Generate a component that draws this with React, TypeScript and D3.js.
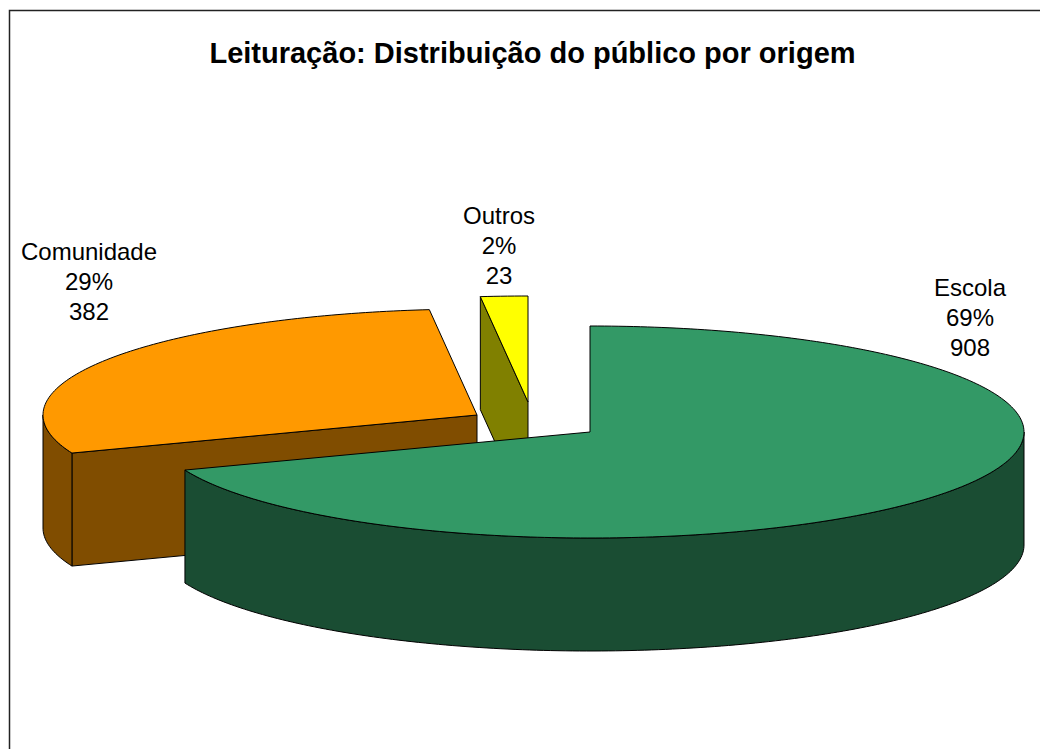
import React from 'react';
import * as d3 from 'd3';

const title = 'Leituração: Distribuição do público por origem';
const categories = ['Escola', 'Comunidade', 'Outros'];
const values = [908, 382, 23];
const topColors = ['#339966', '#FF9900', '#FFFF00'];
const sideColors = ['#1A4D33', '#804D00', '#808000'];

const width = 1040;
const height = 749;
const rx = 434;
const ry = 106;
const depth = 113;
// pie centre of each slice after it is pulled out
const centers: [number, number][] = [[590, 432], [477, 415], [528, 402]];
const labelPos: [number, number][] = [[970, 296], [89, 260], [499, 224]];
const labelStep = 30;
const font = '"Liberation Sans", Arial, sans-serif';

const line = d3.line<[number, number]>();
const pct = d3.format('.0%');
const total = d3.sum(values);

// point on the tilted rim, angle 0 at 12 o'clock going clockwise
const rim = (c: [number, number], a: number, dy = 0): [number, number] => [
  c[0] + rx * Math.sin(a),
  c[1] - ry * Math.cos(a) + dy,
];

const arcPoints = (c: [number, number], a0: number, a1: number, dy = 0) => {
  const n = Math.max(2, Math.ceil(Math.abs(a1 - a0) * 60));
  return d3.range(n + 1).map((i) => rim(c, a0 + ((a1 - a0) * i) / n, dy));
};

const Slice = ({ arc, i }: { arc: d3.PieArcDatum<number>; i: number }) => {
  const c = centers[i];
  const { startAngle: a0, endAngle: a1 } = arc;
  const top = line([c, ...arcPoints(c, a0, a1)]) + 'Z';

  // outer wall is only seen on the front half of the ellipse
  const w0 = Math.max(a0, Math.PI / 2);
  const w1 = Math.min(a1, (3 * Math.PI) / 2);
  const wall = w1 > w0
    ? line([...arcPoints(c, w0, w1), ...arcPoints(c, w1, w0, depth)]) + 'Z'
    : null;

  // cut face: the one at the slice start shows when it looks to the viewer
  const s: [number, number] = rim(c, a0);
  const cut = a0 > Math.PI
    ? line([c, s, [s[0], s[1] + depth], [c[0], c[1] + depth]]) + 'Z'
    : null;

  return (
    <g stroke="#000" strokeWidth={1} strokeLinejoin="round">
      {cut && <path d={cut} fill={sideColors[i]} />}
      {wall && <path d={wall} fill={sideColors[i]} />}
      <path d={top} fill={topColors[i]} />
    </g>
  );
};

const App = () => {
  const arcs = d3.pie<number>().sort(null)(values);
  // back slices first, Escola sits in front of the others
  const order = [2, 1, 0];

  return (
    <svg
      width={width}
      height={height}
      style={{ position: 'absolute', left: 0, top: 0, background: '#fff' }}
    >
      <rect x={9.5} y={10.5} width={width + 20} height={height + 20} fill="#fff" stroke="#222" strokeWidth={1.5} />
      <text x={532.5} y={63} textAnchor="middle" fontFamily={font} fontWeight="bold" fontSize={29} fill="#000">
        {title}
      </text>
      {order.map((i) => <Slice key={categories[i]} arc={arcs[i]} i={i} />)}
      {categories.map((name, i) => (
        <text key={name} textAnchor="middle" fontFamily={font} fontSize={24} fill="#000">
          {[name, pct(values[i] / total), String(values[i])].map((t, k) => (
            <tspan key={k} x={labelPos[i][0]} y={labelPos[i][1] + k * labelStep}>{t}</tspan>
          ))}
        </text>
      ))}
    </svg>
  );
};

export default App;
